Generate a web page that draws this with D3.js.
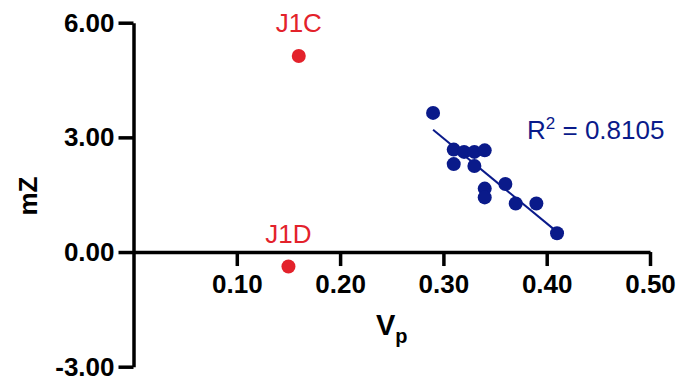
<!DOCTYPE html>
<html>
<head>
<meta charset="utf-8">
<script src="https://cdn.jsdelivr.net/npm/d3@7"></script>
<style>
  body { margin: 0; background: #fff; }
  svg { display: block; font-family: "Liberation Sans", Arial, Helvetica, sans-serif; }
</style>
</head>
<body>
<svg id="chart" width="677" height="383"></svg>
<script>
// fitted group (blue)
const vp = [0.29, 0.31, 0.32, 0.33, 0.34, 0.31, 0.33, 0.36, 0.34, 0.34, 0.37, 0.39, 0.41];
const mz = [3.64, 2.68, 2.62, 2.62, 2.66, 2.30, 2.25, 1.78, 1.66, 1.43, 1.27, 1.27, 0.49];

// outliers (red)
const outlierNames = ["J1C", "J1D"];
const outlierVp = [0.16, 0.15];
const outlierMz = [5.13, -0.38];

const xTicks = [0.1, 0.2, 0.3, 0.4, 0.5];
const yTicks = [-3, 0, 3, 6];
const r2Label = "0.8105";

const blue = "#0a1a8a";
const red = "#e3222b";

const svg = d3.select("#chart");

const x = d3.scaleLinear().domain([0, 0.5]).range([133.5, 650]);
const y = d3.scaleLinear().domain([-3, 6]).range([366.7, 22.7]);

// plain hyphen for negatives, like the original
const fmt = d => d.toFixed(2);

// axes
const xAxis = svg.append("g")
    .attr("transform", "translate(0," + y(0) + ")")
    .call(d3.axisBottom(x).tickValues(xTicks).tickFormat(fmt)
        .tickSize(14).tickSizeOuter(0).tickPadding(9));

const yAxis = svg.append("g")
    .attr("transform", "translate(" + x(0) + ",0)")
    .call(d3.axisLeft(y).tickValues(yTicks).tickFormat(fmt)
        .tickSize(15).tickSizeOuter(0).tickPadding(4));

[xAxis, yAxis].forEach(g => {
    g.attr("font-family", null).attr("font-size", null);
    g.select(".domain").attr("stroke", "#000").attr("stroke-width", 3.5);
    g.selectAll(".tick line").attr("stroke", "#000").attr("stroke-width", 3.5);
    g.selectAll(".tick text")
        .attr("fill", "#000")
        .style("font-size", "26px")
        .style("font-weight", "bold");
});

// axis titles
svg.append("text")
    .attr("transform", "translate(37,196) rotate(-90)")
    .attr("text-anchor", "middle")
    .style("font-size", "26px")
    .style("font-weight", "bold")
    .text("mZ");

const xt = svg.append("text")
    .attr("x", (x(0) + x(0.5)) / 2)
    .attr("y", 335)
    .attr("text-anchor", "middle")
    .style("font-weight", "bold");
xt.append("tspan").style("font-size", "29px").text("V");
xt.append("tspan").style("font-size", "20px").attr("dy", 8).text("p");

// least squares line through the blue group
const mx = d3.mean(vp), my = d3.mean(mz);
const slope = d3.sum(vp, (v, i) => (v - mx) * (mz[i] - my)) / d3.sum(vp, v => (v - mx) * (v - mx));
const x0 = d3.min(vp), x1 = d3.max(vp);
svg.append("line")
    .attr("x1", x(x0)).attr("y1", y(my + slope * (x0 - mx)))
    .attr("x2", x(x1)).attr("y2", y(my + slope * (x1 - mx)))
    .attr("stroke", blue)
    .attr("stroke-width", 2);

svg.append("g")
    .selectAll("circle")
    .data(vp.map((v, i) => ({ v: v, z: mz[i] })))
    .enter()
    .append("circle")
    .attr("cx", d => x(d.v))
    .attr("cy", d => y(d.z))
    .attr("r", 7)
    .attr("fill", blue);

// outliers with labels
const out = outlierNames.map((n, i) => ({ n: n, v: outlierVp[i], z: outlierMz[i] }));
svg.append("g")
    .selectAll("circle")
    .data(out)
    .enter()
    .append("circle")
    .attr("cx", d => x(d.v))
    .attr("cy", d => y(d.z))
    .attr("r", 7)
    .attr("fill", red);

svg.append("g")
    .selectAll("text")
    .data(out)
    .enter()
    .append("text")
    .attr("x", d => x(d.v))
    .attr("y", d => y(d.z) - 24)
    .attr("text-anchor", "middle")
    .attr("fill", red)
    .style("font-size", "26px")
    .text(d => d.n);

// R squared annotation
const rt = svg.append("text")
    .attr("x", 527)
    .attr("y", 139)
    .attr("fill", blue)
    .style("font-size", "26px");
rt.append("tspan").text("R");
rt.append("tspan").attr("dy", -10).style("font-size", "17px").text("2");
rt.append("tspan").attr("dy", 10).text(" = " + r2Label);
</script>
</body>
</html>
